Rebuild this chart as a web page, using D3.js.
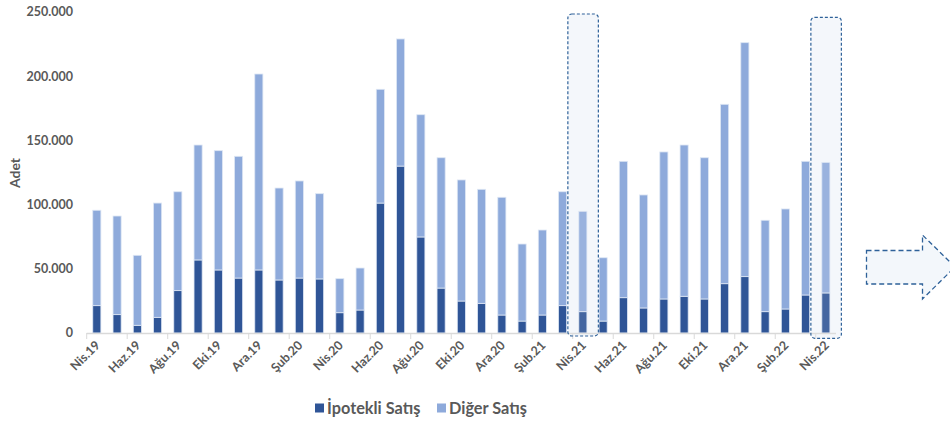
<!DOCTYPE html>
<html><head><meta charset="utf-8">
<script src="https://cdn.jsdelivr.net/npm/d3@7"></script>
<style>body{margin:0;background:#fff}svg{display:block}text{font-family:Lato,"Open Sans",sans-serif}</style>
</head><body>
<svg id="c" width="950" height="428"></svg>
<script>
const categories = ["Nis.19","May.19","Haz.19","Tem.19","Ağu.19","Eyl.19","Eki.19","Kas.19","Ara.19","Oca.20","Şub.20","Mar.20",
"Nis.20","May.20","Haz.20","Tem.20","Ağu.20","Eyl.20","Eki.20","Kas.20","Ara.20","Oca.21","Şub.21","Mar.21",
"Nis.21","May.21","Haz.21","Tem.21","Ağu.21","Eyl.21","Eki.21","Kas.21","Ara.21","Oca.22","Şub.22","Mar.22","Nis.22"];
const ipotekli = [21300,14300,6000,12200,33000,56900,49100,42800,49100,41300,42800,42100,
15800,17900,101200,130000,74800,35000,24900,23100,14000,9300,14000,21300,
16600,9300,27500,19500,26500,28600,26500,38400,43900,16600,18700,29600,31200];
const toplam = [95600,91100,60500,101200,110000,146400,142000,137600,201700,112900,118400,108500,
42300,50600,189800,229000,170000,136500,119200,111900,105700,69300,80200,110000,
94800,58600,133700,107500,141000,146400,136500,178100,226100,87800,96600,133700,132900];
const diger = toplam.map((t,i)=>t-ipotekli[i]);
const yTicks = [0,50000,100000,150000,200000,250000];
const seriesNames = ["İpotekli Satış","Diğer Satış"];
const colors = ["#2f5597","#8eaadb"];
const highlighted = ["Nis.21","Nis.22"];

const svg = d3.select("#c");
const x = d3.scaleBand().domain(categories).range([86.7,836]).paddingInner(0.6).paddingOuter(0.3);
const y = d3.scaleLinear().domain([0,250000]).range([333,12]);
const grey = "#595959";

// y axis labels
const fmt = v => v===0 ? "0" : d3.format(",")(v).replace(/,/g,".");
svg.append("g").selectAll("text").data(yTicks).join("text")
  .attr("x",73).attr("y",d=>y(d)).attr("dy","0.35em").attr("text-anchor","end")
  .attr("font-size",12.5).attr("font-weight","bold").attr("fill",grey).text(fmt);
svg.append("text").attr("transform","translate(15,173) rotate(-90)").attr("text-anchor","middle")
  .attr("dy","0.35em").attr("font-size",14).attr("font-weight","bold").attr("fill",grey).text("Adet");

// highlight box backgrounds
const boxX = d => x(d)+x.bandwidth()/2-15;
const boxY = [14,17.3];
const boxH = [322,321];
svg.append("g").selectAll("rect").data(highlighted).join("rect")
  .attr("x",boxX).attr("width",30.5).attr("y",(d,i)=>boxY[i]).attr("height",(d,i)=>boxH[i])
  .attr("rx",4).attr("fill","#f3f7fb");

// stacked bars
const data = categories.map((c,i)=>({cat:c,"İpotekli Satış":ipotekli[i],"Diğer Satış":diger[i]}));
const stack = d3.stack().keys(seriesNames)(data);
const g = svg.append("g");
stack.forEach((s,si)=>{
  g.append("g").attr("fill",colors[si]).selectAll("rect").data(s).join("rect")
   .attr("x",d=>x(d.data.cat)).attr("width",x.bandwidth())
   .attr("y",d=>y(d[1])).attr("height",d=>y(d[0])-y(d[1]))
   .attr("stroke","#dde6f4").attr("stroke-width",0.8);
});

// x axis
const x0 = x.range()[0], x1 = x.range()[1];
const stepW = (x1-x0)/categories.length;
const ax = svg.append("g");
ax.append("line").attr("x1",x0).attr("x2",x1).attr("y1",333.5).attr("y2",333.5)
  .attr("stroke","#d9d9d9").attr("stroke-width",1.5);
const tickIdx = d3.range(0,categories.length+1,2);
ax.selectAll("line.t").data(tickIdx).join("line").attr("class","t")
  .attr("x1",i=>x0+stepW*i).attr("x2",i=>x0+stepW*i)
  .attr("y1",333).attr("y2",339).attr("stroke","#d9d9d9").attr("stroke-width",1);
const shown = categories.filter((c,i)=>i%2===0);
ax.selectAll("text").data(shown).join("text")
  .attr("transform",d=>`translate(${x(d)+x.bandwidth()/2+4},${346}) rotate(-45)`)
  .attr("text-anchor","end").attr("font-size",12.5).attr("font-weight","bold").attr("fill",grey).text(d=>d);

// highlight box outlines (slight overlay)
svg.append("g").selectAll("rect").data(highlighted).join("rect")
  .attr("x",boxX).attr("width",30.5).attr("y",(d,i)=>boxY[i]).attr("height",(d,i)=>boxH[i])
  .attr("rx",4).attr("fill","#ffffff").attr("fill-opacity",0.1)
  .attr("stroke","#2e6199").attr("stroke-width",1.2).attr("stroke-dasharray","3,2");

// arrow
svg.append("path").attr("d","M866.5,250.5 L922.5,250.5 L922.5,235 L955,267 L922.5,299 L922.5,284 L866.5,284 Z")
  .attr("fill","#f3f7fb").attr("stroke","#2e6199").attr("stroke-width",1.3).attr("stroke-dasharray","5,3");

// legend
const leg = svg.append("g").attr("transform","translate(315,408)");
const items = [{n:seriesNames[0],c:colors[0],x:0},{n:seriesNames[1],c:colors[1],x:122}];
items.forEach(it=>{
  leg.append("rect").attr("x",it.x).attr("y",-4.5).attr("width",9).attr("height",9).attr("fill",it.c);
  leg.append("text").attr("x",it.x+12).attr("y",0).attr("dy","0.35em").attr("font-size",16.3)
    .attr("font-weight","bold").attr("fill",grey).text(it.n);
});
</script>
</body></html>
